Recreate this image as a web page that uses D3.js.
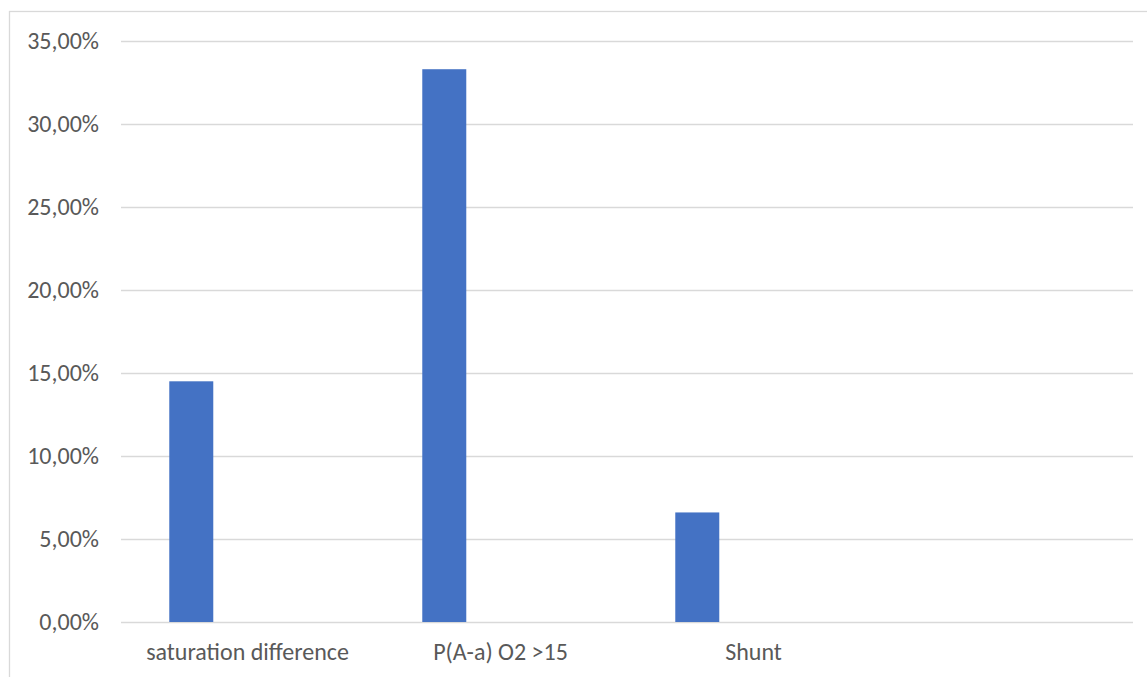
<!DOCTYPE html>
<html>
<head>
<meta charset="utf-8">
<script src="https://cdn.jsdelivr.net/npm/d3@7"></script>
<style>
  html, body { margin: 0; padding: 0; background: #ffffff; }
  svg { display: block; }
  .label { font-family: Carlito, Lato, "Open Sans", sans-serif; fill: #595959; }
</style>
</head>
<body>
<svg id="chart" width="1147" height="677"></svg>
<script>
// Share of patients per criterion
const categories = ["saturation difference", "P(A-a) O2 >15", "Shunt", ""];
const shares = [0.145, 0.333, 0.066];
const yTicks = [0, 0.05, 0.10, 0.15, 0.20, 0.25, 0.30, 0.35];

const W = 1147, H = 677;
const plot = { left: 121, right: 1133, top: 41, bottom: 622 };
const fontSize = 24;

const svg = d3.select("#chart");

// Outer chart-area frame
svg.append("rect")
  .attr("x", 9.5).attr("y", 11.5)
  .attr("width", W + 20).attr("height", H + 20)
  .attr("fill", "#ffffff")
  .attr("stroke", "#d9d9d9").attr("stroke-width", 1.3);

const x = d3.scaleBand()
  .domain(categories)
  .range([plot.left, plot.right])
  .paddingInner(0).paddingOuter(0);

// Position of the single series inside each category slot
const xSeries = d3.scaleBand()
  .domain(["share"])
  .range([0, x.bandwidth()])
  .paddingInner(0)
  .paddingOuter(2.375)
  .align(0.231);

const y = d3.scaleLinear()
  .domain([0, 0.35])
  .range([plot.bottom, plot.top]);

const locale = d3.formatLocale({ decimal: ",", thousands: ".", grouping: [3], currency: ["", " €"] });
const pct = locale.format(".2%");

// Horizontal gridlines with percentage labels
const yAxis = svg.append("g")
  .attr("transform", `translate(${plot.left},0)`)
  .call(d3.axisLeft(y)
    .tickValues(yTicks)
    .tickFormat(pct)
    .tickSize(-(plot.right - plot.left))
    .tickPadding(22));
yAxis.select(".domain").remove();
yAxis.selectAll(".tick line")
  .attr("stroke", "#d9d9d9").attr("stroke-width", 1.3);
yAxis.selectAll(".tick text")
  .attr("class", "label")
  .attr("font-size", fontSize)
  .attr("font-family", null);

// Bars
svg.append("g")
  .selectAll("rect")
  .data(shares)
  .join("rect")
  .attr("x", (d, i) => x(categories[i]) + xSeries("share"))
  .attr("width", xSeries.bandwidth())
  .attr("y", d => y(d))
  .attr("height", d => y(0) - y(d))
  .attr("fill", "#4472c4");

// Category labels
const xAxis = svg.append("g")
  .attr("transform", `translate(0,${plot.bottom})`)
  .call(d3.axisBottom(x).tickSize(0).tickPadding(21));
xAxis.select(".domain").remove();
xAxis.selectAll(".tick text")
  .attr("class", "label")
  .attr("font-size", fontSize)
  .attr("font-family", null);
</script>
</body>
</html>
